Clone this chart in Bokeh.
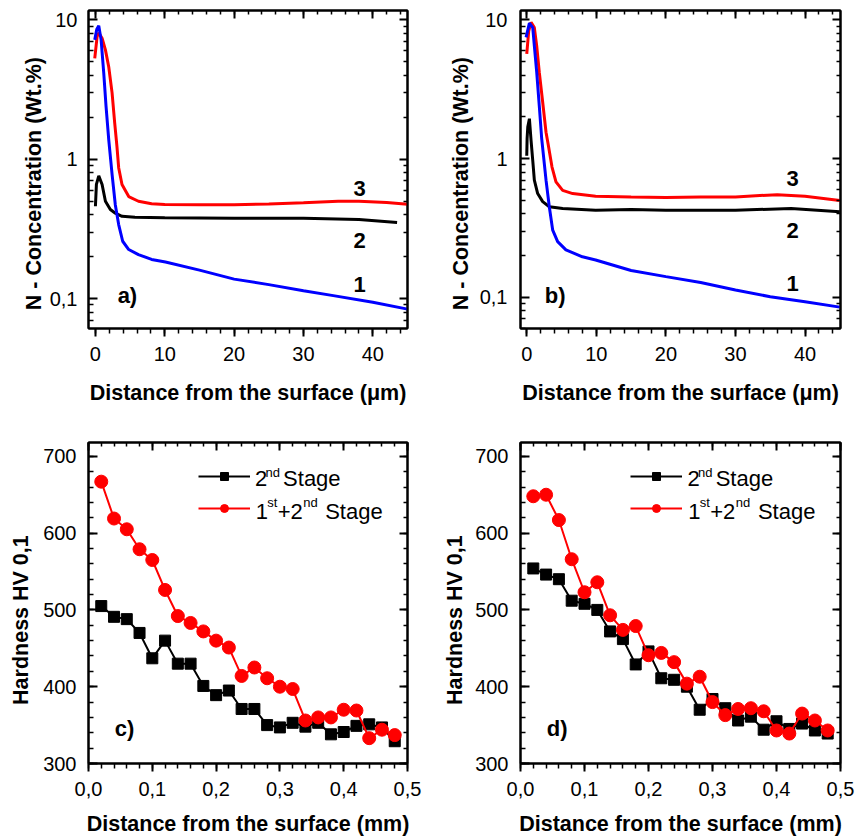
from bokeh.plotting import figure
from bokeh.layouts import gridplot
from bokeh.models import (LinearAxis, LogAxis, Range1d, Label, Legend, LegendItem,
                          CustomJSTickFormatter, SingleIntervalTicker, FixedTicker)
from bokeh.embed import file_html
from bokeh.resources import INLINE

FONT = "Liberation Sans"
RED = "#FF0000"
BLUE = "#0000FF"
BLACK = "#000000"

# ---------------- Panel a: N concentration (curves 1, 2, 3) ----------------
a1_x = [-0.1, 0.2, 0.48, 0.82, 1.2, 1.53, 1.92, 2.4, 2.87, 3.35, 3.93, 4.8, 6.2, 8.1, 10.1, 15, 20, 25, 30, 34.3, 40, 45]
a1_y = [7.2, 8.6, 9.1, 7.2, 4.16, 2.4, 1.38, 0.78, 0.47, 0.34, 0.258, 0.225, 0.207, 0.191, 0.183, 0.16, 0.138, 0.126, 0.114, 0.105, 0.094, 0.084]
a2_x = [0, 0.14, 0.48, 0.96, 1.44, 2.15, 2.87, 3.83, 5.7, 10, 20, 30, 38, 43.5]
a2_y = [0.46, 0.66, 0.76, 0.66, 0.50, 0.436, 0.41, 0.39, 0.384, 0.38, 0.378, 0.378, 0.37, 0.352]
a3_x = [-0.1, 0.24, 0.48, 0.96, 1.44, 1.92, 2.4, 2.78, 3.1, 3.35, 3.83, 4.8, 6.2, 8.1, 10, 15, 20, 25, 30, 35, 38, 42, 45]
a3_y = [5.3, 7.6, 8.1, 7.4, 6.1, 4.6, 3.0, 1.82, 1.24, 0.87, 0.66, 0.54, 0.50, 0.48, 0.474, 0.472, 0.472, 0.478, 0.488, 0.50, 0.50, 0.49, 0.476]

# ---------------- Panel b ----------------
b1_x = [-0.1, 0.38, 0.86, 1.09, 1.43, 1.8, 2.15, 2.77, 3.24, 3.73, 4.44, 5.63, 8.0, 9.9, 15, 20, 25, 30, 35, 40, 45]
b1_y = [7.5, 9.5, 8.8, 6.5, 4.2, 2.4, 1.39, 0.70, 0.45, 0.305, 0.252, 0.22, 0.196, 0.186, 0.156, 0.141, 0.128, 0.113, 0.101, 0.093, 0.085]
b2_x = [0, 0.05, 0.15, 0.38, 0.62, 0.86, 1.09, 1.57, 2.29, 3.24, 5.16, 9.9, 15, 20, 30, 38, 45]
b2_y = [1.05, 1.4, 1.7, 1.94, 1.35, 0.97, 0.70, 0.56, 0.49, 0.45, 0.437, 0.425, 0.43, 0.425, 0.425, 0.437, 0.414]
b3_x = [0, 0.28, 0.62, 1.09, 1.43, 1.8, 2.29, 2.77, 3.1, 3.63, 4.2, 5.16, 6.6, 9.9, 15, 20, 25, 30, 36, 40, 45]
b3_y = [5.7, 8.3, 9.6, 8.8, 6.5, 4.2, 2.55, 1.55, 1.25, 0.87, 0.68, 0.59, 0.56, 0.536, 0.53, 0.525, 0.528, 0.53, 0.55, 0.536, 0.50]

# ---------------- Panels c, d: hardness ----------------
h_x = [0.02, 0.04, 0.06, 0.08, 0.10, 0.12, 0.14, 0.16, 0.18, 0.20, 0.22, 0.24,
       0.26, 0.28, 0.30, 0.32, 0.34, 0.36, 0.38, 0.40, 0.42, 0.44, 0.46, 0.48]
c_stage2 = [505, 491, 488, 470, 437, 460, 430, 430, 401, 389, 395, 371,
            371, 350, 347, 353, 348, 353, 338, 341, 349, 351, 347, 329]
c_stage12 = [667, 619, 605, 579, 565, 526, 492, 483, 472, 460, 451, 414,
             425, 411, 400, 397, 356, 360, 360, 370, 369, 333, 344, 337]
d_stage2 = [554, 546, 540, 512, 508, 500, 472, 462, 429, 446, 411, 409,
            400, 370, 384, 372, 356, 361, 344, 355, 345, 352, 343, 339]
d_stage12 = [648, 650, 617, 566, 523, 536, 493, 474, 479, 441, 444, 432,
             404, 413, 380, 363, 371, 372, 368, 343, 339, 365, 356, 343]

log_major = [0.1, 1, 10]
log_minor = [0.06, 0.07, 0.08, 0.09, 0.2, 0.3, 0.4, 0.5, 0.6, 0.7, 0.8, 0.9,
             2, 3, 4, 5, 6, 7, 8, 9]

TICK_FS = "20px"
LABEL_FS = "21.5px"
# trailing no-break spaces push the rotated y labels slightly below the frame centre
N_LABEL = "N - Concentration (Wt.%)" + "\u00a0" * 4 + "\u2009"
HV_LABEL = "Hardness HV 0,1" + "\u00a0" * 5 + "\u2009"

blank_fmt = CustomJSTickFormatter(code="return '';")
log_fmt = CustomJSTickFormatter(code="return tick.toString().replace('.', ',');")
mm_fmt = CustomJSTickFormatter(code="return tick.toFixed(1).replace('.', ',');")


def base_fig(width, height, xr, yr, ylog, borders):
    l, r, t, b = borders
    p = figure(width=width, height=height, x_range=Range1d(*xr), y_range=Range1d(*yr),
               y_axis_type="log" if ylog else "linear",
               output_backend="svg", toolbar_location=None,
               min_border_left=l, min_border_right=r, min_border_top=t, min_border_bottom=b)
    p.grid.visible = False
    p.outline_line_color = BLACK
    p.outline_line_width = 2
    p.background_fill_color = "white"
    p.border_fill_color = "white"
    return p


def style_main_axes(p, xticker, yticker, xfmt, yfmt, xlabel, ylabel, ylog,
                    ytick_standoff, ylabel_standoff, xlabel_standoff):
    xa = p.xaxis[0]
    ya = p.yaxis[0]
    xa.ticker = xticker
    ya.ticker = yticker
    if xfmt is not None:
        xa.formatter = xfmt
    if yfmt is not None:
        ya.formatter = yfmt
    for ax in (xa, ya):
        ax.axis_line_width = 2
        ax.major_tick_line_width = 2
        ax.minor_tick_line_width = 1.5
        ax.major_label_text_font = FONT
        ax.major_label_text_font_size = TICK_FS
        ax.major_label_text_color = BLACK
        ax.axis_label_text_font = FONT
        ax.axis_label_text_font_size = LABEL_FS
        ax.axis_label_text_font_style = "bold"
        ax.axis_label_text_color = BLACK
    xa.major_tick_in = 0
    xa.major_tick_out = 8
    xa.minor_tick_in = 0
    xa.minor_tick_out = 5
    xa.major_label_standoff = 10
    xa.axis_label = xlabel
    xa.axis_label_standoff = xlabel_standoff
    ya.major_tick_in = 9
    ya.major_tick_out = 0
    ya.minor_tick_in = 5
    ya.minor_tick_out = 0
    ya.major_label_standoff = ytick_standoff
    ya.axis_label = ylabel
    ya.axis_label_standoff = ylabel_standoff

    top = LinearAxis(ticker=xticker, formatter=blank_fmt)
    right = (LogAxis(ticker=yticker, formatter=blank_fmt) if ylog
             else LinearAxis(ticker=yticker, formatter=blank_fmt))
    for ax in (top, right):
        ax.major_label_text_font_size = "1px"
        ax.major_label_text_alpha = 0
        ax.major_label_standoff = 0
        ax.axis_line_width = 2
        ax.major_tick_line_width = 2
        ax.minor_tick_line_width = 1.5
        ax.major_tick_in = 8
        ax.major_tick_out = 0
        ax.minor_tick_in = 4
        ax.minor_tick_out = 0
    p.add_layout(top, "above")
    p.add_layout(right, "right")


def add_text(p, x, y, text, size="22px", bold=True, align="left"):
    p.add_layout(Label(x=x, y=y, text=text, text_font=FONT, text_font_size=size,
                       text_font_style="bold" if bold else "normal",
                       text_color=BLACK, text_align=align, text_baseline="middle"))


def conc_panel(width, borders, xr, yr, curves, tag, tag_xy, nums, ytick_so, ylabel_so):
    p = base_fig(width, 428, xr, yr, True, borders)
    style_main_axes(p, SingleIntervalTicker(interval=10, num_minor_ticks=5),
                    FixedTicker(ticks=log_major, minor_ticks=log_minor),
                    None, log_fmt, "Distance from the surface (\u03bcm)", N_LABEL, True,
                    ytick_so, ylabel_so, 17)
    for xs, ys, col in curves:
        p.line(xs, ys, line_color=col, line_width=3)
    add_text(p, tag_xy[0], tag_xy[1], tag)
    for (t, x, y) in nums:
        add_text(p, x, y, t, align="center")
    return p


pa = conc_panel(436, (88, 28, 10, 100), (-1.0, 45.0), (0.061, 11.7),
                [(a2_x, a2_y, BLACK), (a3_x, a3_y, RED), (a1_x, a1_y, BLUE)],
                "a)", (3.2, 0.105),
                [("3", 38.1, 0.62), ("2", 38.1, 0.261), ("1", 38.1, 0.126)], 11, 1)
pb = conc_panel(422, (84, 18, 10, 100), (-0.9, 45.1), (0.0596, 11.7),
                [(b2_x, b2_y, BLACK), (b3_x, b3_y, RED), (b1_x, b1_y, BLUE)],
                "b)", (2.6, 0.103),
                [("3", 38.2, 0.72), ("2", 38.2, 0.305), ("1", 38.2, 0.125)], 13, 4)


def hard_panel(width, borders, s2, s12, tag, ytick_so, ylabel_so):
    p = base_fig(width, 410, (0, 0.5), (300, 718), False, borders)
    style_main_axes(p, SingleIntervalTicker(interval=0.1, num_minor_ticks=5),
                    SingleIntervalTicker(interval=100, num_minor_ticks=5),
                    mm_fmt, None, "Distance from the surface (mm)", HV_LABEL, False,
                    ytick_so, ylabel_so, 13)
    l2 = p.line(h_x, s2, line_color=BLACK, line_width=2)
    m2 = p.scatter(h_x, s2, marker="square", size=11, fill_color=BLACK, line_color=BLACK)
    l12 = p.line(h_x, s12, line_color=RED, line_width=2)
    m12 = p.scatter(h_x, s12, marker="circle", size=13, fill_color=RED, line_color=RED)
    leg = Legend(items=[LegendItem(label="\u2007", renderers=[l2, m2]),
                        LegendItem(label="\u2007", renderers=[l12, m12])],
                 location=(110, 245), glyph_width=52, glyph_height=20,
                 label_width=1, label_height=20, label_standoff=0, padding=0,
                 spacing=12, margin=0, border_line_color=None,
                 background_fill_alpha=0, label_text_font_size="10px")
    p.add_layout(leg)
    # legend texts with superscripts
    add_text(p, 0.261, 670.8, "2", bold=False)
    add_text(p, 0.2775, 679.5, "nd", size="13px", bold=False)
    add_text(p, 0.305, 670.8, "Stage", bold=False)
    add_text(p, 0.262, 628.8, "1", bold=False)
    add_text(p, 0.280, 640.5, "st", size="13px", bold=False)
    add_text(p, 0.2965, 628.8, "+2", bold=False)
    add_text(p, 0.3365, 640.5, "nd", size="13px", bold=False)
    add_text(p, 0.371, 628.8, "Stage", bold=False)
    add_text(p, 0.041, 345, tag)
    return p


pc = hard_panel(436, (85, 29, 14, 73), c_stage2, c_stage12, "c)", 12, 7)
pd_ = hard_panel(422, (84, 15, 14, 73), d_stage2, d_stage12, "d)", 12, 5)

grid = gridplot([[pa, pb], [pc, pd_]], toolbar_location=None)

open("out.html", "w").write(file_html(grid, INLINE, title="N concentration and hardness"))
